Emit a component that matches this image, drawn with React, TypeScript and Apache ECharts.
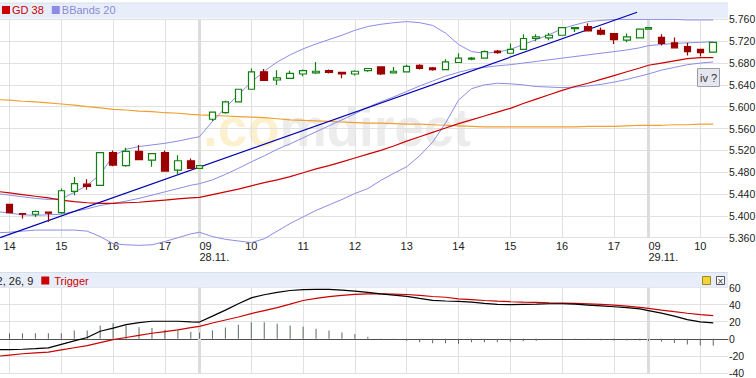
import React, { useEffect, useRef } from "react";
import * as echarts from "echarts";

// ---------- DATA ----------
const sessions = [
  { date: "25.11.", from: "13:45", to: "17:30" },
  { date: "28.11.", from: "09:00", to: "17:30" },
  { date: "29.11.", from: "09:00", to: "10:15" },
];

const opens = [
  5.413, 5.421, 5.404, 5.403, 5.407, 5.406, 5.445, 5.458, 5.456, 5.516, 5.492, 5.518, 5.502, 5.516, 5.484, 5.501,
  5.487, 5.577, 5.589, 5.609, 5.632, 5.664, 5.649, 5.652, 5.660, 5.662, 5.666, 5.663, 5.660, 5.666, 5.673, 5.662,
  5.664, 5.676, 5.671, 5.668, 5.681, 5.687, 5.689, 5.702, 5.698, 5.705, 5.725, 5.726, 5.731, 5.743, 5.747, 5.740,
  5.734, 5.722, 5.726,
  5.742, 5.727, 5.717, 5.710, 5.705, 5.700,
];
const closes = [
  5.421, 5.406, 5.403, 5.408, 5.405, 5.446, 5.459, 5.454, 5.516, 5.493, 5.518, 5.503, 5.514, 5.482, 5.501, 5.487,
  5.492, 5.590, 5.609, 5.632, 5.664, 5.648, 5.653, 5.661, 5.666, 5.665, 5.663, 5.660, 5.665, 5.670, 5.660, 5.665,
  5.674, 5.670, 5.668, 5.682, 5.689, 5.689, 5.701, 5.699, 5.705, 5.725, 5.728, 5.731, 5.745, 5.745, 5.739, 5.733,
  5.723, 5.728, 5.742,
  5.745, 5.716, 5.708, 5.701, 5.699, 5.718,
];
const lows = [
  5.412, 5.405, 5.395, 5.398, 5.389, 5.404, 5.438, 5.448, 5.455, 5.491, 5.490, 5.502, 5.490, 5.481, 5.476, 5.486,
  5.486, 5.574, 5.587, 5.608, 5.631, 5.647, 5.640, 5.651, 5.656, 5.660, 5.661, 5.652, 5.657, 5.664, 5.658, 5.661,
  5.663, 5.668, 5.666, 5.667, 5.680, 5.685, 5.688, 5.697, 5.697, 5.704, 5.720, 5.722, 5.730, 5.737, 5.738, 5.731,
  5.715, 5.718, 5.725,
  5.741, 5.712, 5.707, 5.694, 5.692, 5.699,
];
const highs = [
  5.422, 5.421, 5.404, 5.410, 5.407, 5.450, 5.471, 5.467, 5.517, 5.520, 5.525, 5.530, 5.515, 5.520, 5.511, 5.505,
  5.493, 5.591, 5.611, 5.633, 5.670, 5.669, 5.667, 5.666, 5.668, 5.682, 5.668, 5.664, 5.667, 5.671, 5.674, 5.673,
  5.677, 5.678, 5.673, 5.687, 5.698, 5.691, 5.703, 5.704, 5.716, 5.733, 5.733, 5.735, 5.746, 5.746, 5.753, 5.745,
  5.735, 5.734, 5.743,
  5.746, 5.733, 5.727, 5.717, 5.706, 5.719,
];

const gd38 = [
  5.445, 5.442, 5.439, 5.436, 5.433, 5.429, 5.426, 5.424, 5.423, 5.423, 5.424, 5.425, 5.427, 5.429, 5.431, 5.433,
  5.434, 5.439, 5.444, 5.449, 5.455, 5.461, 5.466, 5.472, 5.479, 5.486, 5.492, 5.499, 5.506, 5.513, 5.520, 5.528,
  5.537, 5.545, 5.553, 5.561, 5.569, 5.576, 5.583, 5.590, 5.597, 5.606, 5.614, 5.622, 5.630, 5.637, 5.643, 5.650,
  5.657, 5.664, 5.671,
  5.676, 5.680, 5.684, 5.688, 5.690, 5.690,
];
const gdLong = [
  5.613, 5.612, 5.610, 5.609, 5.607, 5.605, 5.603, 5.600, 5.598, 5.595, 5.594, 5.592, 5.591, 5.589, 5.588, 5.586,
  5.585, 5.584, 5.583, 5.582, 5.581, 5.580, 5.578, 5.576, 5.575, 5.574, 5.573, 5.572, 5.571, 5.570, 5.570, 5.569,
  5.568, 5.568, 5.567, 5.566, 5.565, 5.564, 5.563, 5.563, 5.563, 5.563, 5.563, 5.563, 5.563, 5.563, 5.564, 5.564,
  5.564, 5.565, 5.566,
  5.566, 5.566, 5.567, 5.567, 5.568, 5.568,
];
const bbUpper = [
  5.441, 5.438, 5.435, 5.432, 5.430, 5.431, 5.443, 5.456, 5.476, 5.510, 5.522, 5.527, 5.530, 5.533, 5.537, 5.542,
  5.545, 5.573, 5.598, 5.622, 5.645, 5.665, 5.682, 5.695, 5.706, 5.715, 5.723, 5.731, 5.740, 5.747, 5.751, 5.754,
  5.756, 5.754, 5.749, 5.735, 5.714, 5.701, 5.698, 5.700, 5.705, 5.714, 5.723, 5.732, 5.743, 5.750, 5.756, 5.758,
  5.760, 5.760, 5.760,
  5.760, 5.760, 5.760, 5.759, 5.759, 5.759,
];
const bbMiddle = [
  5.408, 5.405, 5.402, 5.401, 5.402, 5.403, 5.408, 5.413, 5.419, 5.423, 5.427, 5.432, 5.438, 5.444, 5.450, 5.456,
  5.459, 5.466, 5.476, 5.487, 5.499, 5.510, 5.522, 5.532, 5.543, 5.554, 5.565, 5.576, 5.587, 5.599, 5.609, 5.618,
  5.628, 5.638, 5.647, 5.656, 5.663, 5.669, 5.672, 5.675, 5.677, 5.680, 5.683, 5.686, 5.689, 5.692, 5.695, 5.698,
  5.701, 5.704, 5.708,
  5.712, 5.714, 5.716, 5.717, 5.718, 5.719,
];
const bbLower = [
  5.369, 5.370, 5.372, 5.374, 5.374, 5.374, 5.374, 5.372, 5.362, 5.349, 5.347, 5.346, 5.347, 5.353, 5.360, 5.367,
  5.370, 5.362, 5.357, 5.354, 5.351, 5.358, 5.372, 5.386, 5.398, 5.410, 5.420, 5.430, 5.441, 5.450, 5.465, 5.478,
  5.490, 5.510, 5.535, 5.570, 5.612, 5.633, 5.640, 5.643, 5.642, 5.640, 5.637, 5.636, 5.635, 5.636, 5.638, 5.641,
  5.645, 5.650, 5.656,
  5.660, 5.667, 5.672, 5.677, 5.680, 5.682,
];

const macdLine = [
  -12.6, -12.6, -12.2, -11.5, -10.7, -6.5, -2.5, 1.5, 8.8, 12.5, 16.6, 19.0, 20.5, 20.5, 20.5, 19.8,
  19.6, 26.5, 33.5, 41.0, 47.9, 51.5, 54.4, 56.5, 57.6, 57.8, 57.7, 57.0, 55.8, 54.2, 52.5, 51.0,
  49.7, 47.3, 45.0, 44.2, 43.7, 42.8, 41.5, 40.3, 40.0, 40.3, 40.6, 41.0, 41.0, 40.5, 39.5, 38.5,
  37.5, 36.5, 35.0,
  33.0, 30.0, 26.5, 22.5, 19.8, 18.6,
];
const triggerLine = [
  -20.5, -19.0, -17.5, -16.5, -15.5, -13.0, -10.5, -8.0, -4.5, -1.0, 1.5, 4.0, 6.5, 8.5, 10.5, 13.0,
  14.6, 18.5, 22.0, 25.5, 29.5, 33.0, 36.5, 40.5, 44.8, 47.2, 49.3, 50.8, 52.0, 52.5, 52.6, 52.3,
  51.8, 50.9, 49.5, 48.6, 46.8, 45.9, 44.8, 44.0, 43.4, 42.9, 42.5, 42.1, 41.8, 41.4, 40.9, 40.2,
  39.3, 38.2, 36.8,
  35.6, 33.6, 31.7, 29.9, 28.3, 27.1,
];
const macdHist = [
  6.6, 6.6, 6.6, 6.6, 6.6, 6.6, 9.8, 9.8, 15.6, 18.3, 15.6, 13.6, 12.5, 10.5, 9.8, 8.2,
  7.5, 9.8, 13.3, 16.4, 19.5, 19.5, 17.6, 15.6, 14.0, 11.7, 9.8, 7.4, 5.5, 2.3, 0.3, -1.2,
  -2.3, -3.9, -5.1, -5.1, -5.9, -3.9, -3.9, -3.9, -3.5, -3.0, -2.2, -1.5, -1.0, -1.0, -1.5, -1.8,
  -2.0, -2.0, -2.0,
  -2.5, -3.5, -5.0, -6.6, -7.7, -8.2,
];

// trend line anchors (in 15-minute slot units, price)
const trendLine = [
  { slot: 0.27, value: 5.36 },
  { slot: 49.46, value: 5.773 },
];

const mainAxis = { min: 5.36, max: 5.76, step: 0.04 };
const macdAxis = { min: -40, max: 60, step: 20 };

// ---------- LAYOUT ----------
const SLOT_GAP = 0.67; // compressed overnight gap (in slots)
const X_MIN = 0.266;
const X_MAX = 56.48;
const FONT = '"Liberation Sans", Arial, sans-serif';

type Candle = { slot: number; hh: string; mm: string; date: string; sessionStart: boolean };

function buildCandles(): Candle[] {
  const out: Candle[] = [];
  const toMin = (t: string) => {
    const [h, m] = t.split(":").map(Number);
    return h * 60 + m;
  };
  sessions.forEach((s, k) => {
    const a = toMin(s.from);
    const b = toMin(s.to);
    const base = k === 0 ? 0 : out[out.length - 1].slot + SLOT_GAP;
    for (let m = a; m <= b; m += 15) {
      out.push({
        slot: base + (m - a) / 15,
        hh: String(Math.floor(m / 60)).padStart(2, "0"),
        mm: String(m % 60).padStart(2, "0"),
        date: s.date,
        sessionStart: k > 0 && m === a,
      });
    }
  });
  return out;
}

export default function App() {
  const ref = useRef<HTMLDivElement>(null);

  useEffect(() => {
    if (!ref.current) return;
    const chart = echarts.init(ref.current, undefined, { renderer: "svg" });
    const candles = buildCandles();
    const slots = candles.map((c) => c.slot);
    const hourCandles = candles.filter((c) => c.mm === "00");
    const tickSlots = hourCandles.map((c) => c.slot);
    const labelMap: Record<string, string> = {};
    hourCandles.forEach((c) => {
      labelMap[c.slot.toFixed(3)] = c.sessionStart ? `{s|${c.hh}}\n{s|${c.date}}` : `{n|${c.hh}}`;
    });
    const sessionSlots = candles.filter((c) => c.sessionStart).map((c) => c.slot);

    const pair = (arr: number[]) => arr.map((v, i) => [slots[i], v]);
    const ohlc = candles.map((c, i) => [c.slot, opens[i], closes[i], lows[i], highs[i]]);

    const gridLine = { color: "#e1e1e1", width: 1 };
    const sessionMark = {
      silent: true,
      symbol: ["none", "none"],
      z: 1,
      label: { show: false },
      lineStyle: { color: "#dcdcdc", width: 3, type: "solid" as const },
      emphasis: { disabled: true },
      data: sessionSlots.map((s) => ({ xAxis: s })),
    };

    const lineBase = {
      type: "line" as const,
      symbol: "none",
      showSymbol: false,
      silent: true,
      clip: false,
      xAxisIndex: 0,
      yAxisIndex: 0,
    };

    const option: any = {
      animation: false,
      backgroundColor: "#ffffff",
      textStyle: { fontFamily: FONT },
      grid: [
        { left: 0, top: 19.4, width: 728, height: 218.3, outerBoundsMode: "none", containLabel: false },
        { left: 0, top: 287.5, width: 728, height: 85.5, outerBoundsMode: "none", containLabel: false },
      ],
      legend: [
        {
          left: 2,
          top: 4.5,
          padding: 0,
          icon: "rect",
          itemWidth: 8,
          itemHeight: 8,
          itemGap: 8,
          selectedMode: false,
          textStyle: { fontSize: 11, fontFamily: FONT, padding: [0, 0, 0, -3] },
          data: [
            { name: "GD 38", textStyle: { color: "#cc0000" } },
            { name: "BBands 20", textStyle: { color: "#8a8ad6" } },
          ],
        },
        {
          left: -58,
          top: 275,
          padding: 0,
          icon: "rect",
          itemWidth: 8,
          itemHeight: 8,
          itemGap: 8,
          selectedMode: false,
          textStyle: { fontSize: 11, fontFamily: FONT, padding: [0, 0, 0, 0] },
          data: [
            { name: "MACD 12, 26, 9", textStyle: { color: "#222222" } },
            { name: "Trigger", textStyle: { color: "#cc0000" } },
          ],
        },
      ],
      xAxis: [
        {
          type: "value",
          gridIndex: 0,
          min: X_MIN,
          max: X_MAX,
          axisLine: { show: false },
          axisTick: { show: false, customValues: tickSlots },
          splitLine: { show: true, lineStyle: gridLine },
          axisLabel: {
            customValues: tickSlots,
            margin: 3,
            fontSize: 11,
            fontFamily: FONT,
            color: "#222",
            lineHeight: 11,
            formatter: (v: number) => labelMap[v.toFixed(3)] ?? "",
            rich: {
              n: { fontSize: 11, fontFamily: FONT, color: "#222", lineHeight: 11 },
              s: {
                fontSize: 11,
                fontFamily: FONT,
                color: "#222",
                lineHeight: 11,
                width: 34,
                align: "left",
                padding: [0, 0, 0, 34],
              },
            },
          },
        },
        {
          type: "value",
          gridIndex: 1,
          min: X_MIN,
          max: X_MAX,
          axisLine: { show: true, onZero: true, lineStyle: { color: "#505050", width: 1 } },
          axisTick: { show: false, customValues: tickSlots },
          splitLine: { show: true, lineStyle: gridLine },
          axisLabel: { show: false },
        },
      ],
      yAxis: [
        {
          type: "value",
          gridIndex: 0,
          position: "right",
          min: mainAxis.min,
          max: mainAxis.max,
          interval: mainAxis.step,
          axisLine: { show: false },
          axisTick: { show: false },
          splitLine: { show: true, lineStyle: gridLine },
          axisLabel: {
            margin: 1,
            fontSize: 10.5,
            fontFamily: FONT,
            color: "#222",
            formatter: (v: number) => v.toFixed(3),
          },
        },
        {
          type: "value",
          gridIndex: 1,
          position: "right",
          min: macdAxis.min,
          max: macdAxis.max,
          interval: macdAxis.step,
          axisLine: { show: false },
          axisTick: { show: false },
          splitLine: { show: true, lineStyle: gridLine },
          axisLabel: { margin: 1, fontSize: 10.5, fontFamily: FONT, color: "#222" },
        },
      ],
      graphic: [
        {
          type: "rect",
          z: 1,
          silent: true,
          shape: { x: 0, y: 3, width: 728, height: 15.5 },
          style: { fill: "#e8eef9", stroke: "none" },
        },
        {
          type: "line",
          z: 1,
          silent: true,
          shape: { x1: 0, y1: 3, x2: 728, y2: 3 },
          style: { stroke: "#d6deec", lineWidth: 1 },
        },
        {
          type: "rect",
          z: 1,
          silent: true,
          shape: { x: 0, y: 273, width: 728, height: 14.5 },
          style: { fill: "#e8eef9", stroke: "none" },
        },
        {
          type: "line",
          z: 1,
          silent: true,
          shape: { x1: 0, y1: 272.5, x2: 728, y2: 272.5 },
          style: { stroke: "#d6deec", lineWidth: 1 },
        },
        {
          type: "text",
          z: 0,
          silent: true,
          x: 203,
          y: 127,
          style: {
            text: "{a|.co}{b|mdirect}",
            verticalAlign: "middle",
            rich: {
              a: { fill: "#fcf1cf", fontSize: 53, fontWeight: "bold", fontFamily: FONT },
              b: { fill: "#ececec", fontSize: 53, fontWeight: "bold", fontFamily: FONT },
            },
          },
        },
        {
          type: "rect",
          z: 6,
          silent: true,
          shape: { x: 697.5, y: 68.5, width: 22, height: 18 },
          style: { fill: "#e6e6ee", stroke: "#9c9cab", lineWidth: 1 },
        },
        {
          type: "text",
          z: 7,
          silent: true,
          x: 708.5,
          y: 77.5,
          style: {
            text: "iv ?",
            fill: "#333",
            fontSize: 11,
            fontFamily: FONT,
            align: "center",
            verticalAlign: "middle",
          },
        },
        {
          type: "rect",
          z: 6,
          silent: true,
          shape: { x: 702.5, y: 276.5, width: 8, height: 8 },
          style: { fill: "#f2d43a", stroke: "#a08a20", lineWidth: 1 },
        },
        {
          type: "rect",
          z: 6,
          silent: true,
          shape: { x: 716.5, y: 276.5, width: 8, height: 8 },
          style: { fill: "#ffffff", stroke: "#555", lineWidth: 1 },
        },
        {
          type: "text",
          z: 7,
          silent: true,
          x: 720.5,
          y: 281,
          style: {
            text: "×",
            fill: "#333",
            fontSize: 10,
            fontFamily: FONT,
            align: "center",
            verticalAlign: "middle",
          },
        },
      ],
      series: [
        {
          ...lineBase,
          name: "GD 200",
          z: 2,
          data: pair(gdLong),
          color: "#f0a030",
          lineStyle: { color: "#f0a030", width: 1.2 },
          markLine: sessionMark,
        },
        {
          ...lineBase,
          name: "BBands 20",
          data: pair(bbUpper),
          color: "#8c8ce6",
          lineStyle: { color: "#8c8ce6", width: 1 },
        },
        {
          ...lineBase,
          name: "BBands 20",
          data: pair(bbMiddle),
          color: "#8c8ce6",
          lineStyle: { color: "#8c8ce6", width: 1 },
        },
        {
          ...lineBase,
          name: "BBands 20",
          data: pair(bbLower),
          color: "#8c8ce6",
          lineStyle: { color: "#8c8ce6", width: 1 },
        },
        {
          ...lineBase,
          name: "GD 38",
          data: pair(gd38),
          color: "#cc0000",
          lineStyle: { color: "#cc0000", width: 1.2 },
        },
        {
          ...lineBase,
          name: "Trend",
          data: trendLine.map((p) => [p.slot, p.value]),
          color: "#0000b0",
          lineStyle: { color: "#0000b0", width: 1.2 },
        },
        {
          type: "candlestick",
          name: "Kurs",
          xAxisIndex: 0,
          yAxisIndex: 0,
          silent: true,
          z: 3,
          barWidth: 7,
          encode: { x: 0, y: [1, 2, 3, 4] },
          data: ohlc,
          itemStyle: {
            color: "#ffffff",
            color0: "#9a0000",
            borderColor: "#118011",
            borderColor0: "#9a0000",
            borderWidth: 1.2,
          },
        },
        {
          type: "bar",
          name: "Histogramm",
          xAxisIndex: 1,
          yAxisIndex: 1,
          silent: true,
          barWidth: 1,
          data: pair(macdHist),
          itemStyle: { color: "#5b6b5d" },
          markLine: sessionMark,
        },
        {
          type: "line",
          name: "Trigger",
          xAxisIndex: 1,
          yAxisIndex: 1,
          symbol: "none",
          showSymbol: false,
          silent: true,
          data: pair(triggerLine),
          color: "#cc0000",
          lineStyle: { color: "#cc0000", width: 1.2 },
        },
        {
          type: "line",
          name: "MACD 12, 26, 9",
          xAxisIndex: 1,
          yAxisIndex: 1,
          symbol: "none",
          showSymbol: false,
          silent: true,
          data: pair(macdLine),
          color: "#000000",
          lineStyle: { color: "#000000", width: 1.2 },
        },
      ],
    };

    chart.setOption(option);
    return () => chart.dispose();
  }, []);

  return (
    <div
      ref={ref}
      style={{ position: "fixed", left: 0, top: 0, width: 756, height: 378, background: "#fff" }}
    />
  );
}
